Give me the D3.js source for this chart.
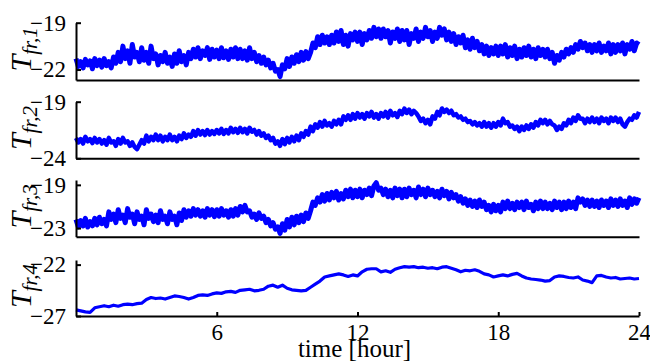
<!DOCTYPE html>
<html><head><meta charset="utf-8">
<script src="https://cdn.jsdelivr.net/npm/d3@7"></script>
<style>
html,body{margin:0;padding:0;background:#fff;}
svg{display:block;font-family:"Liberation Serif","Times New Roman",serif;}
</style></head>
<body><svg id="c" width="650" height="364"></svg>
<script>
// ---- data (hours 0..24, evenly spaced samples) ----
const xTicks = [6, 12, 18, 24];
const panelNames = ["1", "2", "3", "4"];
const yTicks1 = [-22, -19];
const yTicks2 = [-24, -19];
const yTicks3 = [-23, -19];
const yTicks4 = [-27, -22];

const tfr1 = [
-21.3,-21.8,-21.5,-21.9,-21.35,-21.7,-21.45,-21.95,-21.3,-21.75,
-21.4,-21.85,-21.3,-21.75,-21.5,-21.9,-21.2,-21.6,-20.9,-21.5,
-20.5,-21.3,-20.8,-21.6,-20.4,-21.2,-20.9,-21.5,-20.6,-21.4,
-20.9,-21.6,-20.5,-21.3,-21.0,-21.7,-21.1,-21.5,-20.9,-21.6,
-21.2,-21.8,-21.0,-21.6,-20.8,-21.5,-21.1,-21.7,-20.9,-21.3,
-20.7,-21.2,-20.6,-21.3,-20.8,-21.1,-20.6,-21.35,-20.7,-21.2,
-20.75,-21.3,-20.6,-21.25,-20.8,-21.35,-20.7,-21.2,-20.6,-21.3,
-20.7,-21.3,-20.8,-21.4,-20.6,-21.3,-20.9,-21.5,-21.1,-21.6,
-21.2,-21.7,-21.4,-21.9,-21.6,-22.1,-22.0,-22.45,-21.7,-21.95,
-21.3,-21.8,-21.2,-21.6,-21.05,-21.5,-20.9,-21.4,-20.85,-21.3,
-20.9,-20.3,-20.6,-19.9,-20.4,-19.8,-20.3,-19.9,-20.4,-19.8,
-20.3,-19.6,-20.2,-19.5,-20.4,-19.8,-20.5,-19.7,-20.1,-19.6,
-20.2,-19.6,-20.4,-19.7,-20.1,-19.5,-20.0,-19.3,-19.9,-19.4,
-20.0,-19.4,-19.9,-19.5,-20.3,-19.6,-20.0,-19.4,-20.2,-19.5,
-20.1,-19.5,-20.4,-19.7,-20.0,-19.4,-20.2,-19.6,-20.0,-19.3,
-19.9,-19.5,-20.2,-19.6,-20.0,-19.3,-19.8,-19.4,-20.1,-19.6,
-20.2,-19.7,-20.4,-19.9,-20.3,-19.8,-20.6,-20.1,-20.7,-20.0,
-20.6,-20.2,-20.8,-20.4,-21.0,-20.5,-21.1,-20.6,-21.0,-20.5,
-21.1,-20.5,-21.0,-20.4,-21.2,-20.6,-21.1,-20.5,-21.3,-20.7,
-21.2,-20.6,-21.1,-20.5,-21.2,-20.7,-21.3,-20.6,-21.1,-20.7,
-21.2,-20.7,-21.3,-20.9,-21.6,-21.1,-21.4,-20.9,-21.2,-20.7,
-21.0,-20.6,-20.9,-20.4,-20.7,-20.2,-20.6,-20.3,-20.8,-20.4,
-20.9,-20.4,-20.8,-20.3,-20.9,-20.5,-20.8,-20.3,-21.0,-20.4,
-20.9,-20.4,-20.8,-20.3,-21.0,-20.4,-20.7,-20.2,-20.8,-20.3,
-20.4];

const tfr2 = [
-22.2,-22.6,-22.3,-22.7,-22.1,-22.5,-22.3,-22.65,-22.2,-22.6,
-22.3,-22.7,-22.4,-22.8,-22.2,-22.6,-22.5,-22.9,-22.3,-22.7,
-22.2,-22.6,-22.5,-22.9,-22.6,-23.0,-23.2,-22.8,-22.4,-22.7,
-22.0,-22.5,-22.1,-22.4,-21.9,-22.4,-22.0,-22.5,-22.1,-22.4,
-21.9,-22.4,-22.1,-22.5,-22.0,-22.3,-21.8,-22.2,-21.9,-22.1,
-21.6,-22.0,-21.5,-21.9,-21.6,-21.95,-21.5,-21.9,-21.6,-21.85,
-21.5,-21.8,-21.4,-21.85,-21.5,-21.8,-21.3,-21.7,-21.4,-21.75,
-21.3,-21.7,-21.4,-21.8,-21.3,-21.65,-21.5,-21.9,-21.6,-22.0,
-21.8,-22.2,-22.0,-22.4,-22.2,-22.7,-22.5,-22.9,-22.3,-22.75,
-22.2,-22.6,-22.1,-22.5,-22.0,-22.4,-21.8,-22.1,-21.6,-21.9,
-21.2,-21.6,-21.0,-21.3,-20.8,-21.2,-20.7,-21.1,-20.9,-21.2,
-20.7,-21.0,-20.6,-21.0,-20.3,-20.6,-20.2,-20.6,-20.1,-20.5,
-20.0,-20.4,-20.1,-20.5,-20.0,-20.3,-19.9,-20.4,-20.1,-20.5,
-20.0,-20.3,-19.9,-20.4,-19.8,-20.2,-20.0,-20.35,-19.8,-20.1,
-19.6,-20.0,-19.7,-20.1,-19.8,-20.0,-20.3,-20.7,-20.5,-20.9,
-20.6,-21.0,-20.3,-20.5,-19.9,-20.2,-19.6,-19.9,-19.7,-20.0,
-19.8,-20.2,-20.1,-20.4,-20.3,-20.6,-20.5,-20.8,-20.7,-21.0,
-20.8,-21.1,-20.9,-21.2,-20.8,-21.2,-20.9,-21.3,-20.9,-21.2,
-20.8,-21.1,-20.5,-20.9,-20.8,-21.2,-21.1,-21.4,-21.2,-21.6,
-21.2,-21.5,-21.1,-21.4,-21.0,-21.3,-20.8,-21.1,-20.6,-20.9,
-20.6,-21.0,-20.7,-21.0,-21.1,-21.5,-21.2,-21.4,-20.9,-21.1,
-20.6,-20.9,-20.4,-20.7,-20.2,-20.5,-20.5,-20.9,-20.5,-20.8,
-20.4,-20.8,-20.5,-20.9,-20.4,-20.7,-20.5,-20.9,-20.4,-20.7,
-20.4,-20.8,-20.5,-21.0,-21.2,-20.8,-20.5,-20.6,-20.2,-20.4,
-19.9];

const tfr3 = [
-22.2,-22.9,-22.3,-22.8,-22.1,-22.9,-22.4,-22.8,-22.1,-22.7,
-22.0,-22.6,-22.2,-22.8,-21.5,-22.2,-21.7,-22.5,-21.3,-22.1,
-21.8,-22.5,-21.2,-22.0,-21.7,-22.6,-21.5,-22.2,-21.9,-22.7,
-21.3,-22.1,-21.7,-22.4,-21.8,-22.5,-21.4,-22.2,-21.9,-22.6,
-21.5,-22.2,-21.9,-22.7,-21.6,-22.3,-21.3,-22.0,-21.4,-21.9,
-21.2,-21.8,-21.3,-21.9,-21.4,-22.0,-21.2,-21.8,-21.3,-21.95,
-21.3,-21.9,-21.2,-21.8,-21.4,-22.0,-21.3,-21.9,-21.2,-21.8,
-21.0,-21.5,-20.9,-21.5,-21.4,-22.0,-21.7,-22.2,-21.6,-22.1,
-21.9,-22.5,-22.2,-22.8,-22.5,-23.1,-22.9,-23.5,-22.6,-23.2,
-22.2,-22.9,-22.0,-22.7,-21.9,-22.5,-21.8,-22.4,-21.6,-22.1,
-21.4,-20.6,-20.9,-20.2,-20.6,-19.9,-20.5,-19.8,-20.4,-19.7,
-20.2,-19.6,-20.4,-19.8,-20.3,-19.5,-20.1,-19.4,-20.2,-19.5,
-20.1,-19.4,-20.2,-19.5,-19.9,-19.3,-20.0,-19.1,-18.8,-19.5,
-19.3,-19.9,-19.4,-20.1,-19.5,-20.2,-19.3,-20.0,-19.4,-20.2,
-19.4,-20.1,-19.3,-19.9,-19.5,-20.2,-19.2,-19.9,-19.4,-20.1,
-19.3,-19.9,-19.5,-20.1,-19.6,-20.2,-19.4,-20.0,-19.6,-20.3,
-19.7,-20.2,-19.9,-20.5,-20.1,-20.7,-20.3,-20.9,-20.4,-21.0,
-20.5,-21.1,-20.4,-21.0,-20.6,-21.3,-20.9,-21.5,-20.8,-21.4,
-20.9,-21.5,-20.6,-21.2,-20.5,-21.2,-20.7,-21.3,-20.6,-21.1,
-20.6,-21.3,-20.5,-21.1,-20.8,-21.4,-20.6,-21.2,-20.5,-21.2,
-20.6,-21.2,-20.7,-21.3,-20.5,-21.1,-20.6,-21.3,-20.6,-21.2,
-20.5,-21.1,-20.6,-21.2,-20.2,-20.6,-20.3,-20.9,-20.4,-21.0,
-20.4,-21.0,-20.5,-21.1,-20.4,-20.9,-20.5,-21.1,-20.3,-20.9,
-20.4,-21.0,-20.3,-20.9,-20.5,-21.1,-20.2,-20.8,-20.3,-20.7,
-20.2];

const tfr4 = [
-26.4,-26.5,-26.6,-26.65,-26.2,
-26.1,-26.0,-26.1,-25.95,-26.05,
-25.9,-25.85,-25.9,-25.8,-25.75,
-25.4,-25.2,-25.3,-25.25,-25.35,
-25.2,-25.05,-25.1,-25.2,-25.35,
-25.2,-25.0,-24.95,-25.0,-24.85,
-24.75,-24.8,-24.65,-24.6,-24.7,
-24.5,-24.45,-24.4,-24.55,-24.5,
-24.4,-24.1,-24.0,-24.2,-24.0,
-24.3,-24.45,-24.5,-24.55,-24.5,
-24.2,-23.9,-23.6,-23.2,-23.1,
-23.0,-22.9,-23.0,-23.15,-23.0,
-23.1,-22.7,-22.45,-22.4,-22.4,
-22.7,-22.6,-22.75,-22.45,-22.3,
-22.2,-22.25,-22.2,-22.3,-22.25,
-22.35,-22.3,-22.4,-22.25,-22.2,
-22.35,-22.5,-22.7,-22.55,-22.6,
-22.5,-22.65,-22.9,-23.0,-23.2,
-23.1,-23.0,-23.1,-22.95,-22.85,
-23.1,-23.3,-23.4,-23.45,-23.5,
-23.6,-23.55,-23.2,-23.1,-23.15,
-23.25,-23.3,-23.2,-23.5,-23.6,
-23.75,-23.1,-23.05,-23.2,-23.3,
-23.25,-23.4,-23.35,-23.3,-23.4,
-23.35];

// ---- layout ----
const svg = d3.select("#c");
const x = d3.scaleLinear().domain([0, 24]).range([76, 639]);
const panels = [
  {series: tfr1, ticks: yTicks1, domain: [-22.67, -19], range: [80, 22.7], sw: 5},
  {series: tfr2, ticks: yTicks2, domain: [-24, -19], range: [158.3, 101.7], sw: 4.5},
  {series: tfr3, ticks: yTicks3, domain: [-23.8, -18.55], range: [236.7, 180], sw: 5},
  {series: tfr4, ticks: yTicks4, domain: [-27, -21.55], range: [316, 260], sw: 3.2}
];
const fmt = v => "\u2212" + Math.abs(v);

panels.forEach((p, k) => {
  const y = d3.scaleLinear().domain(p.domain).range(p.range);
  const n = p.series.length;
  const hours = d3.range(n).map(i => i * 24 / (n - 1));
  const g = svg.append("g");

  // data line
  g.append("path")
    .datum(p.series)
    .attr("fill", "none")
    .attr("stroke", "#0000ff")
    .attr("stroke-width", p.sw)
    .attr("stroke-linejoin", "round")
    .attr("d", d3.line().x((d, i) => x(hours[i])).y(d => y(d)));

  // y axis
  const ya = g.append("g").attr("transform", `translate(${x(0)},0)`)
    .call(d3.axisLeft(y).tickValues(p.ticks).tickFormat(fmt)
      .tickSizeInner(-5).tickSizeOuter(0).tickPadding(10));
  ya.select(".domain").attr("stroke", "#000").attr("stroke-width", 2);
  ya.selectAll(".tick line").attr("stroke", "#000").attr("stroke-width", 2);
  ya.selectAll("text").attr("font-size", 23).attr("fill", "#000")
    .attr("font-family", "Liberation Serif, Times New Roman, serif");

  // x axis
  const bottom = p.range[0];
  const xa = g.append("g").attr("transform", `translate(0,${bottom})`);
  if (k === 3) {
    xa.call(d3.axisBottom(x).tickValues(xTicks).tickFormat(d3.format("d"))
      .tickSizeInner(-4).tickSizeOuter(0).tickPadding(8));
  } else {
    xa.call(d3.axisBottom(x).tickValues([]).tickSizeOuter(0));
  }
  xa.select(".domain").attr("stroke", "#000").attr("stroke-width", 2);
  xa.selectAll(".tick line").attr("stroke", "#000").attr("stroke-width", 2);
  xa.selectAll("text").attr("font-size", 23).attr("fill", "#000")
    .attr("font-family", "Liberation Serif, Times New Roman, serif");

  // y label T_{fr,k}
  const cy = (p.range[0] + p.range[1]) / 2 - 2;
  const lbl = g.append("text")
    .attr("transform", `translate(31,${cy}) rotate(-90)`)
    .attr("text-anchor", "middle")
    .attr("font-style", "italic")
    .attr("fill", "#000");
  lbl.append("tspan").attr("font-size", 30).text("T");
  lbl.append("tspan").attr("font-size", 21).attr("dy", 6).text("fr," + panelNames[k]);
});

// x label
svg.append("text")
  .attr("x", x(12) - 3).attr("y", 357)
  .attr("text-anchor", "middle")
  .attr("font-size", 25)
  .attr("fill", "#000")
  .text("time [hour]");
</script></body></html>
